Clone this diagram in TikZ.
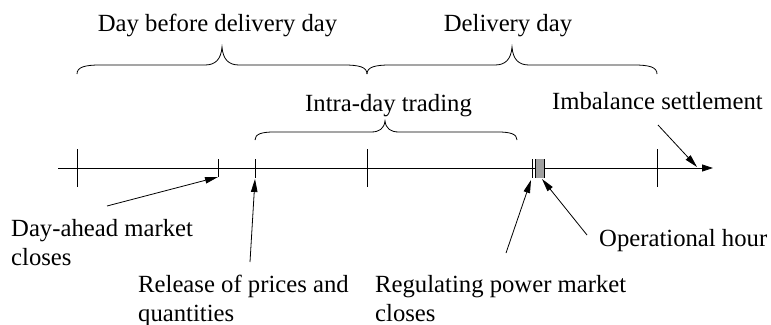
\documentclass[tikz,border=0pt]{standalone}
\usepackage{fontspec}
\setmainfont{Liberation Serif}
\usetikzlibrary{arrows.meta}
\tikzset{
  lbl/.style={font=\fontsize{24.7}{29}\selectfont, inner sep=0pt, align=left},
  axisline/.style={line width=0.8pt},
  tick/.style={line width=0.8pt},
  pointer/.style={line width=0.8pt, -{Triangle[length=13pt,width=6.5pt]}},
  bracepath/.style={line width=0.8pt},
}
% #1 x1, #2 xm, #3 x2, #4 yend, #5 yflat, #6 ytip, #7 end width, #8 tip width
\newcommand\timebrace[8]{%
  \draw[bracepath] (#1,#4) .. controls (#1,{#5+2}) and ({#1+0.35*#7},#5) .. ({#1+#7},#5)
    -- ({#2-#8},#5) .. controls ({#2-0.4*#8},#5) and ({#2-1},{#5-0.3*(#5-#6)}) .. (#2,#6)
    .. controls ({#2+1},{#5-0.3*(#5-#6)}) and ({#2+0.4*#8},#5) .. ({#2+#8},#5)
    -- ({#3-#7},#5) .. controls ({#3-0.35*#7},#5) and (#3,{#5+2}) .. (#3,#4);}
\begin{document}
\begin{tikzpicture}[x=1pt,y=-1pt]
\useasboundingbox (0,0) rectangle (771,324);
% axis
\coordinate (axstart) at (58,168);
\coordinate (axend) at (713,168);
\draw[axisline, -{Triangle[length=11pt,width=7pt]}] (axstart) -- (axend);
% full ticks
\draw[tick] (77,149) -- (77,187);
\draw[tick] (367,149) -- (367,187);
\draw[tick] (657,149) -- (657,187);
% short ticks
\coordinate (datick) at (218,177);
\coordinate (reltick) at (255,179);
\draw[tick] (218,159) -- (datick);
\draw[tick] (255,159) -- (255,178);
\draw[tick] (532,159) -- (532,178);
% operational hour
\fill[gray!75] (535,159) rectangle (544,178);
\draw[tick] (535,159) -- (535,178);
\draw[tick] (544,159) -- (544,178);
\coordinate (regtick) at (531,180);
\coordinate (ophour) at (542,179);
\coordinate (imbpt) at (697,167);
% braces
\timebrace{77}{222}{367}{74}{65}{47}{23}{17}
\timebrace{367}{512}{657}{74}{65}{47}{23}{17}
\timebrace{255}{385}{517}{140}{132}{121}{19}{14}
% labels
\node[lbl, anchor=base] (daybefore) at (217.5,31) {Day before delivery day};
\node[lbl, anchor=base] (delivery) at (508,31) {Delivery day};
\node[lbl, anchor=base] (intraday) at (388.5,111) {Intra-day trading};
\node[lbl, anchor=base west] (imbalance) at (552,109) {Imbalance settlement};
\node[lbl, anchor=base west] (dayahead) at (11,265) {Day-ahead market\\closes};
\node[lbl, anchor=base west] (release) at (138,321) {Release of prices and\\quantities};
\node[lbl, anchor=base west] (regulating) at (375,321) {Regulating power market\\closes};
\node[lbl, anchor=base west] (operational) at (599,246) {Operational hour};
% arrow tails
\coordinate (datail) at (107,206);
\coordinate (reltail) at (250,262);
\coordinate (regtail) at (506,253);
\coordinate (optail) at (587,235);
\coordinate (imbtail) at (658,125);
\draw[pointer] (datail) -- (datick);
\draw[pointer] (reltail) -- (reltick);
\draw[pointer] (regtail) -- (regtick);
\draw[pointer] (optail) -- (ophour);
\draw[pointer] (imbtail) -- (imbpt);
\end{tikzpicture}
\end{document}
